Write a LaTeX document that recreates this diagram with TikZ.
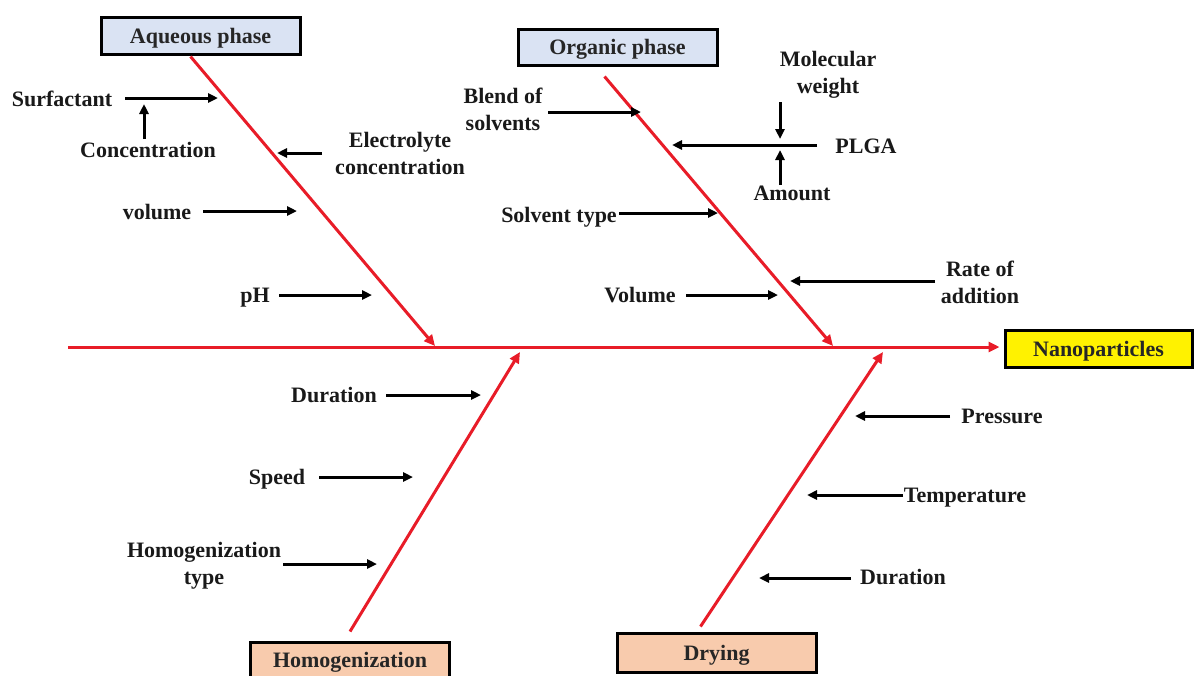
\documentclass[tikz,border=0pt]{standalone}
\usepackage{fontspec}
\setmainfont{Liberation Serif}
\usetikzlibrary{arrows.meta}
\definecolor{bonered}{RGB}{232,28,40}
\definecolor{phasefill}{RGB}{218,227,243}
\definecolor{stepfill}{RGB}{248,203,173}
\tikzset{
  lbl/.style={font=\bfseries\fontsize{22}{27}\selectfont, align=center, inner sep=0pt, text=black!90},
  one/.style={lbl, text height=14pt, text depth=0pt},
  phasebox/.style={draw=black, line width=3pt, fill=phasefill, minimum width=199pt, minimum height=37pt, font=\bfseries\fontsize{22}{24}\selectfont, text=black!85, inner sep=0pt, text height=15pt, text depth=0pt},
  stepbox/.style={phasebox, fill=stepfill},
  outbox/.style={phasebox, fill=yellow, minimum width=187pt},
  bone/.style={draw=bonered, line width=3pt, -{Triangle[length=11pt,width=10pt]}},
  cause/.style={draw=black, line width=3pt, -{Triangle[length=10pt,width=9pt]}}
}
\begin{document}
\begin{tikzpicture}[x=1pt,y=-1pt]
\useasboundingbox (0,0) rectangle (1194,675);

% category boxes and effect
\node[phasebox] (aq) at (200.5,35.5) {Aqueous phase};
\node[phasebox, minimum height=36pt] (org) at (617.5,47) {Organic phase};
\node[stepbox, minimum height=36pt] (hom) at (350,660) {Homogenization};
\node[stepbox, minimum height=39pt] (dry) at (716.5,652.5) {Drying};
\node[outbox] (nano) at (1098.5,348.5) {Nanoparticles};

% main spine
\coordinate (tail) at (68,347);
\draw[bone] (tail) -- ([xshift=-4pt]nano.west |- tail);

% bones
\coordinate (aqend) at (435,346);
\coordinate (orgend) at (833,346);
\coordinate (homend) at (520,352);
\coordinate (dryend) at (883,352);
\draw[bone] ([xshift=-10pt,yshift=-1pt]aq.south) -- (aqend);
\draw[bone] ([xshift=-13pt,yshift=-10pt]org.south) -- (orgend);
\draw[bone] ([yshift=9pt]hom.north) -- (homend);
\draw[bone] ([xshift=-16pt,yshift=5pt]dry.north) -- (dryend);

% aqueous phase causes
\node[one] (surf) at (62,99) {Surfactant};
\node[one] (conc) at (148,150) {Concentration};
\node[lbl] (elec) at (400,153.5) {Electrolyte\\concentration};
\node[one] (vol) at (157,212) {volume};
\node[one] (ph) at (255,295) {pH};
\coordinate (a1s) at (125,98);  \coordinate (a1e) at (218,98);
\coordinate (a2s) at (144,139); \coordinate (a2e) at (144,104);
\coordinate (a3s) at (322,153); \coordinate (a3e) at (277,153);
\coordinate (a4s) at (203,211); \coordinate (a4e) at (297,211);
\coordinate (a5s) at (279,295); \coordinate (a5e) at (372,295);
\draw[cause] (a1s) -- (a1e);
\draw[cause] (a2s) -- (a2e);
\draw[cause] (a3s) -- (a3e);
\draw[cause] (a4s) -- (a4e);
\draw[cause] (a5s) -- (a5e);

% organic phase causes
\node[lbl] (blend) at (503,109.5) {Blend of\\solvents};
\node[lbl] (molw) at (828,75) {Molecular\\weight};
\node[one] (plga) at (866,146) {PLGA};
\node[one] (amt) at (792,193) {Amount};
\node[one] (stype) at (559,215) {Solvent type};
\node[lbl] (rate) at (980,282.5) {Rate of\\addition};
\node[one] (ovol) at (640,295) {Volume};
\coordinate (o1s) at (548,112); \coordinate (o1e) at (641,112);
\coordinate (o2s) at (780,102); \coordinate (o2e) at (780,139);
\coordinate (o3s) at (817,145); \coordinate (o3e) at (672,145);
\coordinate (o4s) at (780,185); \coordinate (o4e) at (780,150);
\coordinate (o5s) at (619,213); \coordinate (o5e) at (718,213);
\coordinate (o6s) at (935,281); \coordinate (o6e) at (790,281);
\coordinate (o7s) at (686,295); \coordinate (o7e) at (778,295);
\draw[cause] (o1s) -- (o1e);
\draw[cause] (o2s) -- (o2e);
\draw[cause] (o3s) -- (o3e);
\draw[cause] (o4s) -- (o4e);
\draw[cause] (o5s) -- (o5e);
\draw[cause] (o6s) -- (o6e);
\draw[cause] (o7s) -- (o7e);

% homogenization causes
\node[one] (hdur) at (334,395) {Duration};
\node[one] (speed) at (277,477) {Speed};
\node[lbl] (htype) at (204,566) {Homogenization\\type};
\coordinate (h1s) at (386,395); \coordinate (h1e) at (481,395);
\coordinate (h2s) at (319,477); \coordinate (h2e) at (413,477);
\coordinate (h3s) at (283,564); \coordinate (h3e) at (377,564);
\draw[cause] (h1s) -- (h1e);
\draw[cause] (h2s) -- (h2e);
\draw[cause] (h3s) -- (h3e);

% drying causes
\node[one] (press) at (1002,416) {Pressure};
\node[one] (temp) at (965,495) {Temperature};
\node[one] (ddur) at (903,577) {Duration};
\coordinate (d1s) at (950,416); \coordinate (d1e) at (855,416);
\coordinate (d2s) at (903,495); \coordinate (d2e) at (807,495);
\coordinate (d3s) at (851,578); \coordinate (d3e) at (759,578);
\draw[cause] (d1s) -- (d1e);
\draw[cause] (d2s) -- (d2e);
\draw[cause] (d3s) -- (d3e);
\end{tikzpicture}
\end{document}
